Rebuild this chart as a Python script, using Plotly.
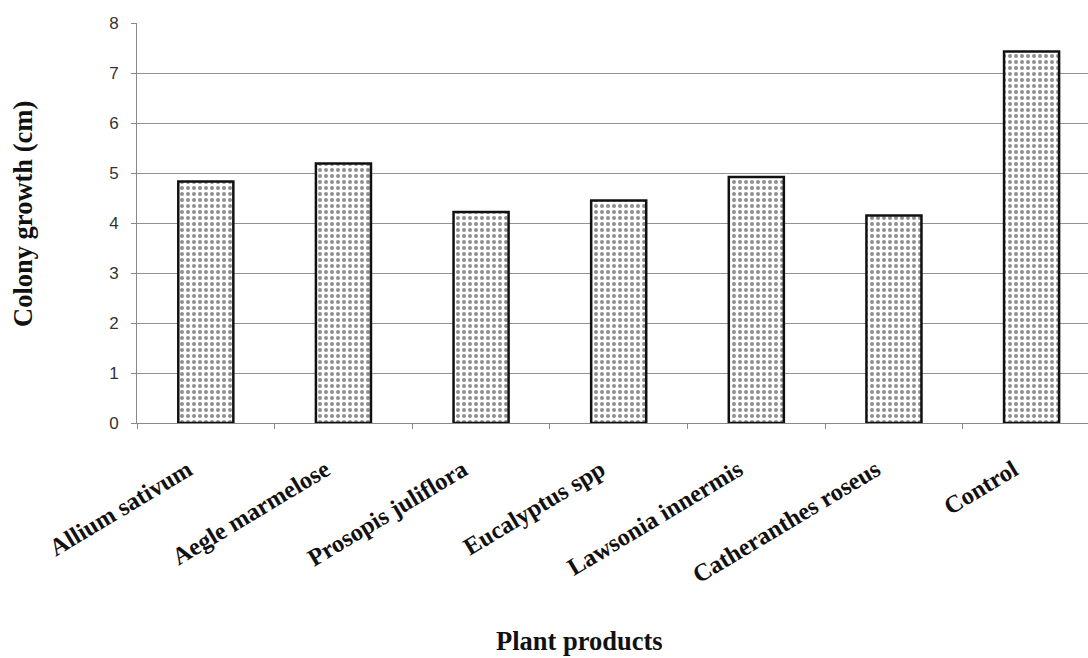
import plotly.graph_objects as go

# Colony growth of the test fungus under each plant product
products = [
    "Allium sativum",
    "Aegle marmelose",
    "Prosopis juliflora",
    "Eucalyptus spp",
    "Lawsonia innermis",
    "Catheranthes roseus",
    "Control",
]
colony_growth_cm = [4.83, 5.19, 4.22, 4.45, 4.92, 4.15, 7.43]
y_ticks = [0, 1, 2, 3, 4, 5, 6, 7, 8]

W, H = 1088, 658
ML, MR, MT, MB = 137, 0, 23, 235

serif = "Liberation Serif, Times New Roman, serif"
sans = "Liberation Sans, Arial, sans-serif"

fig = go.Figure(
    go.Bar(
        x=products,
        y=colony_growth_cm,
        width=0.4,
        marker=dict(
            color="white",
            line=dict(color="#111111", width=2.5),
            pattern=dict(shape=".", fgcolor="#1e1e1e", bgcolor="white",
                         size=6, solidity=0.35),
        ),
        showlegend=False,
    )
)

fig.update_layout(
    width=W,
    height=H,
    margin=dict(l=ML, r=MR, t=MT, b=MB, autoexpand=False),
    paper_bgcolor="white",
    plot_bgcolor="white",
    xaxis=dict(
        type="category",
        range=[-0.5, 6.41],
        tickson="boundaries",
        ticks="outside",
        ticklen=5,
        tickcolor="#888888",
        showline=True,
        linecolor="#888888",
        linewidth=1,
        showgrid=False,
        tickangle=-31,
        ticklabelstandoff=22,
        ticklabelshift=-18,
        tickfont=dict(family=serif, size=24.5, color="#111111", weight="bold"),
        automargin=False,
    ),
    yaxis=dict(
        range=[0, 8],
        tickvals=y_ticks,
        ticks="outside",
        ticklen=5,
        tickcolor="#888888",
        showline=True,
        linecolor="#888888",
        linewidth=1,
        showgrid=True,
        gridcolor="#929292",
        gridwidth=1,
        zeroline=False,
        ticklabelstandoff=9,
        tickfont=dict(family=sans, size=17, color="#333333"),
        automargin=False,
    ),
    annotations=[
        dict(
            text="Colony growth (cm)",
            xref="paper", yref="paper",
            x=(23 - ML) / (W - ML - MR), y=(423 - 214) / (H - MT - MB),
            xanchor="center", yanchor="middle",
            textangle=-90, showarrow=False,
            font=dict(family=serif, size=26.5, color="#111111", weight="bold"),
        ),
        dict(
            text="Plant products",
            xref="paper", yref="paper",
            x=(579 - ML) / (W - ML - MR), y=(423 - 641) / (H - MT - MB),
            xanchor="center", yanchor="middle",
            showarrow=False,
            font=dict(family=serif, size=26.5, color="#111111", weight="bold"),
        ),
    ],
)

fig.write_html("out.html")
